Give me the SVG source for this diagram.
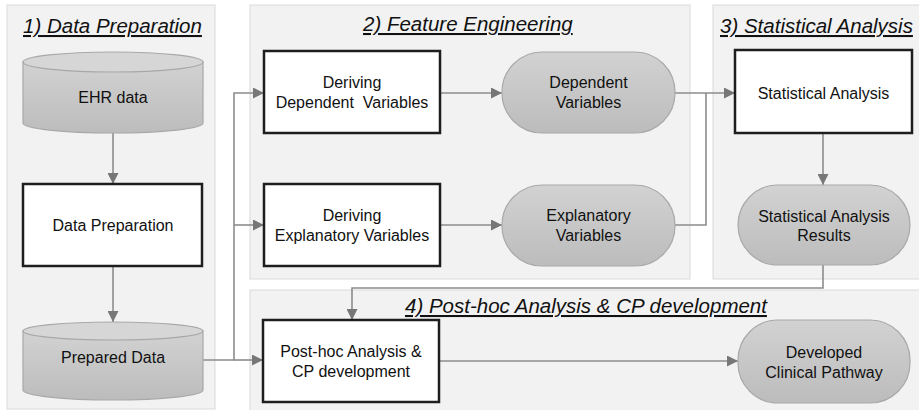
<svg xmlns="http://www.w3.org/2000/svg" width="919" height="410" viewBox="0 0 919 410">
<style>
.panel{fill:#f2f2f2;stroke:#dadada;stroke-width:1}
.title{font-family:"Liberation Sans",Arial,sans-serif;font-size:20.5px;font-style:italic;text-decoration:underline;fill:#111}
.t{font-family:"Liberation Sans",Arial,sans-serif;font-size:16px;fill:#111;text-anchor:middle}
.box{fill:#fff;stroke:#1e1e1e;stroke-width:2.5}
.pill{fill:url(#g);stroke:#a8a8a8;stroke-width:1.2}
.cyl{fill:url(#g);stroke:#a8a8a8;stroke-width:1.2}
.top{fill:#d6d6d6;stroke:#a8a8a8;stroke-width:1.2}
.c{fill:none;stroke:#8c8c8c;stroke-width:1.6}
</style>
<defs>
<linearGradient id="g" x1="0" y1="0" x2="0" y2="1">
<stop offset="0" stop-color="#d2d2d2"/>
<stop offset="1" stop-color="#bcbcbc"/>
</linearGradient>
<marker id="a" markerUnits="userSpaceOnUse" viewBox="0 0 10 10" refX="10" refY="5" markerWidth="11" markerHeight="11" orient="auto">
<path d="M0,0 L10,5 L0,10 z" fill="#777"/>
</marker>
</defs>
<rect width="919" height="410" fill="#fff"/>
<g id="panels">
<rect class="panel" x="7" y="5" width="208" height="404"/>
<rect class="panel" x="250" y="5" width="440" height="274"/>
<rect class="panel" x="713" y="5" width="215" height="274"/>
<rect class="panel" x="250" y="290" width="680" height="130"/>
</g>
<g id="titles">
<text class="title" x="23" y="33">1) Data Preparation</text>
<text class="title" x="363" y="31">2) Feature Engineering</text>
<text class="title" x="720" y="33">3) Statistical Analysis</text>
<text class="title" x="405" y="313">4) Post-hoc Analysis &amp; CP development</text>
</g>
<g id="connectors">
<path class="c" d="M113,133 V184" marker-end="url(#a)"/>
<path class="c" d="M113,266 V322" marker-end="url(#a)"/>
<path class="c" d="M203,360 H234 V93 H264" marker-end="url(#a)"/>
<path class="c" d="M234,225 H264" marker-end="url(#a)"/>
<path class="c" d="M234,360 H263" marker-end="url(#a)"/>
<path class="c" d="M440,93 H502" marker-end="url(#a)"/>
<path class="c" d="M440,225 H502" marker-end="url(#a)"/>
<path class="c" d="M675,93 H735" marker-end="url(#a)"/>
<path class="c" d="M675,225 H706 V93"/>
<path class="c" d="M823,133 V185" marker-end="url(#a)"/>
<path class="c" d="M823,265 V288 H352 V320" marker-end="url(#a)"/>
<path class="c" d="M439,361 H738" marker-end="url(#a)"/>
</g>
<g id="ehr">
<path class="cyl" d="M23,62 V123 A90,10 0 0 0 203,123 V62 Z"/>
<ellipse class="top" cx="113" cy="62" rx="90" ry="10"/>
<text class="t" x="113" y="103">EHR data</text>
</g>
<g id="dataprep">
<rect class="box" x="23" y="184" width="179" height="82"/>
<text class="t" x="113" y="231">Data Preparation</text>
</g>
<g id="prepared">
<path class="cyl" d="M23,331 V390 A90,10 0 0 0 203,390 V331 Z"/>
<ellipse class="top" cx="113" cy="331" rx="90" ry="9"/>
<text class="t" x="113" y="363">Prepared Data</text>
</g>
<g id="derivdep">
<rect class="box" x="264" y="51" width="176" height="82"/>
<text class="t" x="352" y="87.5">Deriving</text>
<text class="t" x="352" y="107.5">Dependent&#160; Variables</text>
</g>
<g id="depvar">
<rect class="pill" x="502" y="52" width="173" height="81" rx="40" ry="40"/>
<text class="t" x="588.5" y="87.5">Dependent</text>
<text class="t" x="588.5" y="107.5">Variables</text>
</g>
<g id="derivexp">
<rect class="box" x="264" y="184" width="176" height="82"/>
<text class="t" x="352" y="220.5">Deriving</text>
<text class="t" x="352" y="240.5">Explanatory Variables</text>
</g>
<g id="expvar">
<rect class="pill" x="502" y="185" width="173" height="81" rx="40" ry="40"/>
<text class="t" x="588.5" y="220.5">Explanatory</text>
<text class="t" x="588.5" y="240.5">Variables</text>
</g>
<g id="stat">
<rect class="box" x="735" y="50" width="177" height="83"/>
<text class="t" x="823.5" y="99">Statistical Analysis</text>
</g>
<g id="statres">
<rect class="pill" x="738" y="185" width="172" height="80" rx="40" ry="40"/>
<text class="t" x="824" y="222">Statistical Analysis</text>
<text class="t" x="824" y="241">Results</text>
</g>
<g id="posthoc">
<rect class="box" x="263" y="320" width="176" height="82"/>
<text class="t" x="351" y="357">Post-hoc Analysis &amp;</text>
<text class="t" x="351" y="377">CP development</text>
</g>
<g id="developed">
<rect class="pill" x="738" y="320" width="172" height="83" rx="40" ry="40"/>
<text class="t" x="824" y="358">Developed</text>
<text class="t" x="824" y="378">Clinical Pathway</text>
</g>
</svg>
